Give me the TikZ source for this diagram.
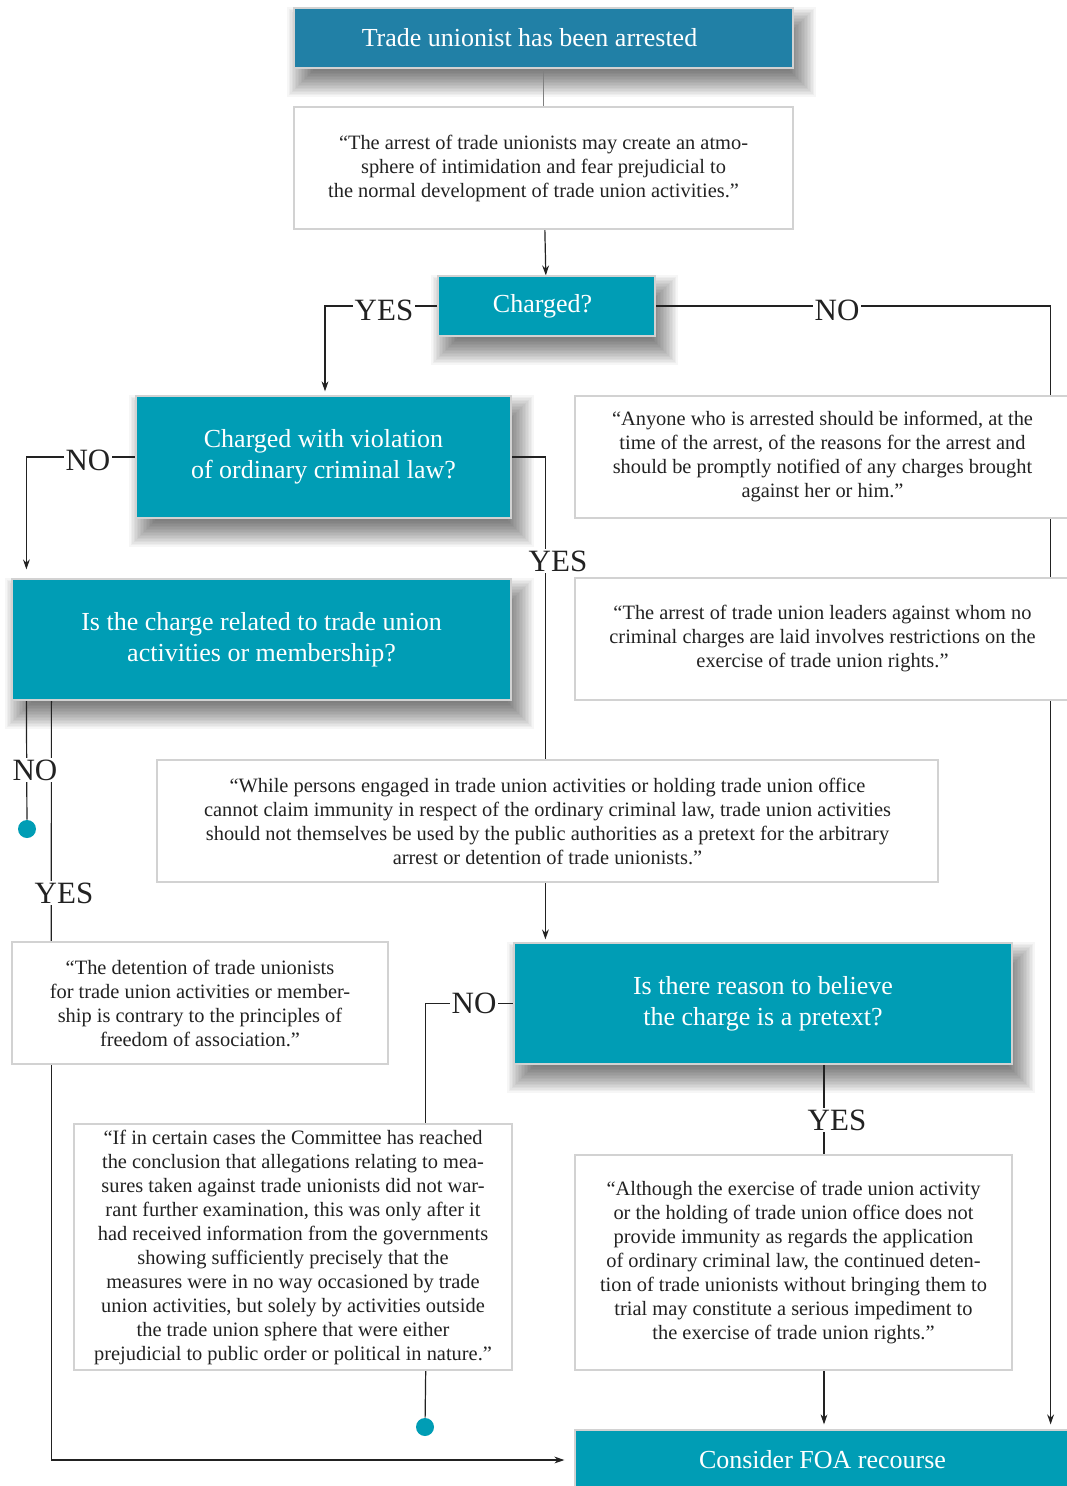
\documentclass[tikz,border=0pt]{standalone}
\usepackage{fontspec}
\setmainfont{Liberation Serif}
\usepackage{xcolor}
\usepackage{tikz}
\usetikzlibrary{positioning,calc,arrows.meta,backgrounds}

\definecolor{deepblue}{RGB}{33,128,166}
\definecolor{tealbox}{RGB}{0,157,181}
\definecolor{inkline}{RGB}{34,34,34}

\begin{document}
\begin{tikzpicture}[x=0.5pt, y=0.5pt,
    qbox/.style={draw=gray!35, line width=0.7pt, fill=white, align=center, inner sep=0pt,
                 text=inkline, font=\fontsize{10.2}{12}\selectfont},
    tbox/.style={draw=gray!35, line width=0.6pt, fill=tealbox, text=white, align=center, inner sep=0pt,
                 font=\fontsize{13}{15.5}\selectfont},
    lbl/.style={fill=white, inner sep=1pt, text=inkline, font=\fontsize{15.5}{16}\selectfont},
    tealdot/.style={circle, fill=tealbox, minimum size=9pt, inner sep=0pt},
    link/.style={draw=inkline, line width=0.6pt},
    arr/.style={link, -{Stealth[length=5pt, width=3.4pt]}}]

    \useasboundingbox (0,0) rectangle (1066,-1486);

    % Questions
    \node[tbox, fill=deepblue, minimum width=249.5pt, minimum height=30pt] (arrested) at (543.5,-38) {Trade unionist has been arrested\hspace*{14pt}};
    \node[tbox, minimum width=108.5pt, minimum height=30pt] (charged) at (546.5,-306) {Charged?\hspace*{4pt}};
    \node[tbox, minimum width=187.5pt, minimum height=61pt] (violation) at (323.5,-457) {Charged with violation\\of ordinary criminal law?};
    \node[tbox, minimum width=249.5pt, minimum height=60.5pt] (related) at (261.5,-639.5) {Is the charge related to trade union\\activities or membership?};
    \node[tbox, minimum width=249pt, minimum height=60.5pt] (pretext) at (763,-1003.5) {Is there reason to believe\\the charge is a pretext?};
    \node[tbox, minimum width=247.5pt, minimum height=30pt] (foa) at (822.5,-1460) {Consider FOA recourse};

    % Quotes
    \node[qbox, minimum width=249.5pt, minimum height=61pt] (fear) at (543.5,-168)
        {“The arrest of trade unionists may create an atmo-\\sphere of intimidation and fear prejudicial to\\the normal development of trade union activities.”\hspace*{10pt}};
    \node[qbox, minimum width=247.5pt, minimum height=61pt] (informed) at (822.5,-457)
        {“Anyone who is arrested should be informed, at the\\time of the arrest, of the reasons for the arrest and\\should be promptly notified of any charges brought\\against her or him.”};
    \node[qbox, minimum width=247.5pt, minimum height=61pt] (leaders) at (822.5,-639)
        {“The arrest of trade union leaders against whom no\\criminal charges are laid involves restrictions on the\\exercise of trade union rights.”};
    \node[qbox, minimum width=390.5pt, minimum height=61pt] (immunity) at (547.5,-821)
        {“While persons engaged in trade union activities or holding trade union office\\cannot claim immunity in respect of the ordinary criminal law, trade union activities\\should not themselves be used by the public authorities as a pretext for the arbitrary\\arrest or detention of trade unionists.”};
    \node[qbox, minimum width=188pt, minimum height=61pt] (detention) at (200,-1003)
        {“The detention of trade unionists\\for trade union activities or member-\\ship is contrary to the principles of\\freedom of association.”};
    \node[qbox, minimum width=219pt, minimum height=123pt] (outside) at (293,-1247)
        {“If in certain cases the Committee has reached\\the conclusion that allegations relating to mea-\\sures taken against trade unionists did not war-\\rant further examination, this was only after it\\had received information from the governments\\showing sufficiently precisely that the\\measures were in no way occasioned by trade\\union activities, but solely by activities outside\\the trade union sphere that were either\\prejudicial to public order or political in nature.”};
    \node[qbox, minimum width=218.5pt, minimum height=107.5pt] (impediment) at (793.5,-1262.5)
        {“Although the exercise of trade union activity\\or the holding of trade union office does not\\provide immunity as regards the application\\of ordinary criminal law, the continued deten-\\tion of trade unionists without bringing them to\\trial may constitute a serious impediment to\\the exercise of trade union rights.”};

    % End points
    \node[tealdot] (stop1) at (27,-829) {};
    \node[tealdot] (stop2) at (425,-1427) {};

    % Answers
    \node[lbl] (yes1) at (384,-310) {YES};
    \node[lbl] (no1) at (837,-310) {NO};
    \node[lbl] (no2) at (88,-460) {NO};
    \node[lbl] (yes2) at (558,-561) {YES};
    \node[lbl] (no3) at (35,-770) {NO};
    \node[lbl] (yes3) at (64,-893) {YES};
    \node[lbl] (no4) at (474,-1003) {NO};
    \node[lbl] (yes4) at (837,-1120) {YES};

    \begin{scope}[on background layer]
        \fill[white] (0,0) rectangle (1066,-1486);

        % Soft shadows
        \foreach \n in {arrested,charged,violation,related,pretext}
            \foreach \k in {0,...,17}
                \fill[black, opacity=0.035]
                    ([xshift={4pt-7pt+\k*0.75pt}, yshift={-7pt-7pt+\k*0.75pt}]\n.south west)
                    rectangle ([xshift={4pt+7pt-\k*0.75pt}, yshift={-7pt+7pt-\k*0.75pt}]\n.north east);

        % Connectors
        \draw[link, draw=gray] (arrested) -- (fear);
        \draw[arr] (fear) -- (charged);
        \draw[arr, shorten >=2pt] (charged.west) -| ([xshift=0.75pt]violation.north);
        \draw[arr, shorten >=2.5pt] (charged.east) -| ([xshift=-10pt]foa.north east);
        \draw[arr, shorten >=4.5pt] (violation.west) -| ([xshift=7.5pt]related.north west);
        \draw[arr, shorten >=1.5pt] (violation.east) -| ([xshift=16pt]pretext.north west);
        \draw[link] ([xshift=7.5pt]related.south west) -- (stop1);
        \draw[link] ([xshift=20pt]related.south west) -- ([xshift=20pt]detention.north west);
        \draw[arr, shorten >=5pt] ([xshift=20pt]detention.south west) |- (foa.west);
        \draw[link] (pretext.west) -| ([xshift=-43.5pt]outside.north east);
        \draw[link] ([xshift=30.5pt]pretext.south) -- ([xshift=30.5pt]pretext.south |- impediment.north);
        \draw[link] ([xshift=-43.5pt]outside.south east) -- (stop2);
        \draw[arr, shorten >=2.5pt] ([xshift=15.25pt]impediment.south) -- ([xshift=15.25pt]impediment.south |- foa.north);
    \end{scope}
\end{tikzpicture}
\end{document}
